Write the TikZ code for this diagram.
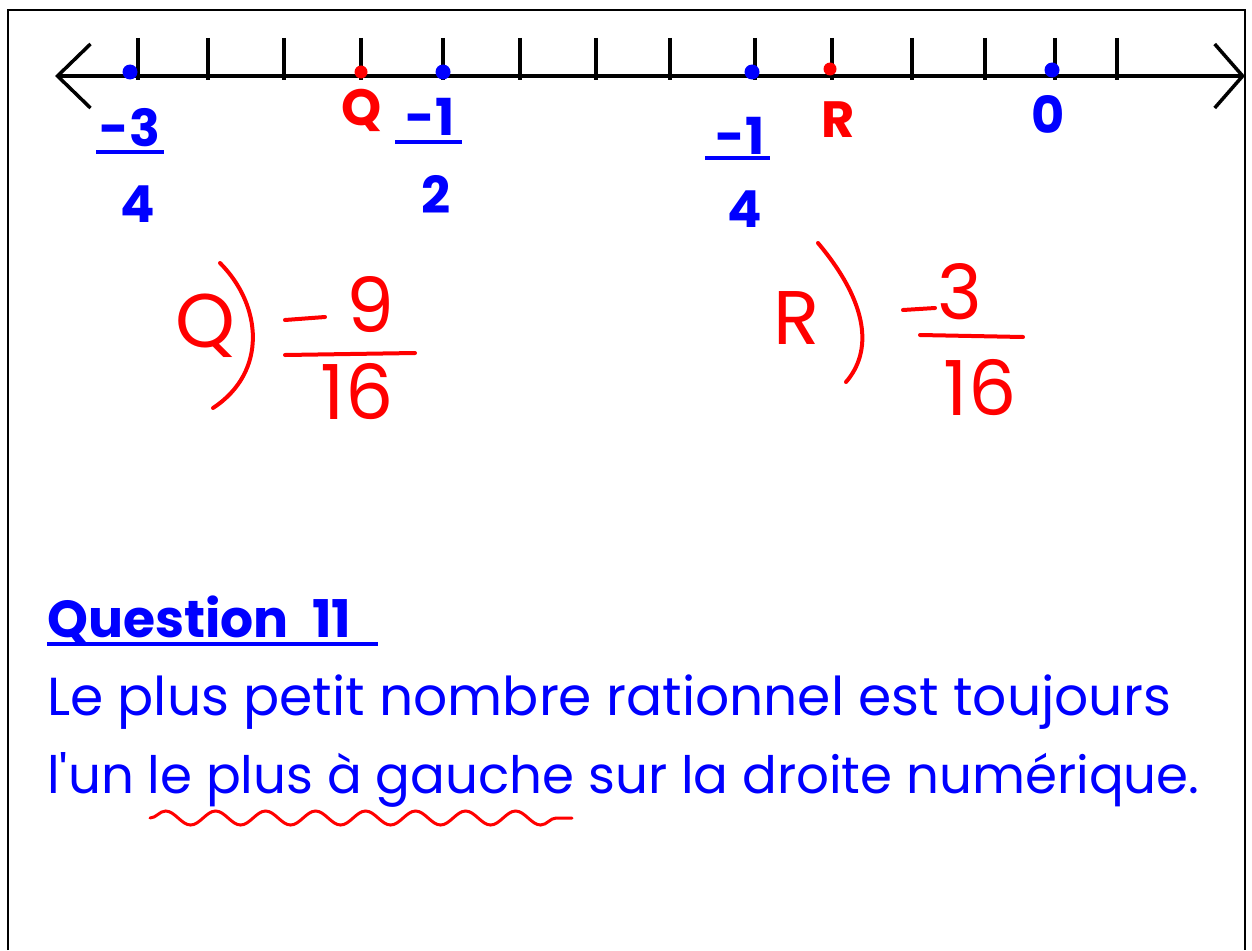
\documentclass[tikz,border=0pt]{standalone}
\usepackage{fontspec}
\setmainfont{Poppins}
\usetikzlibrary{positioning, arrows.meta, decorations.pathmorphing}

\begin{document}
\begin{tikzpicture}[
    x=1pt, y=-1pt,
    axis/.style={line width=3.5pt, black},
    tickmark/.style={line width=4pt, black},
    bdot/.style={circle, fill=blue, inner sep=0pt, minimum size=15pt},
    rdot/.style={circle, fill=red, inner sep=0pt, minimum size=13pt},
    blab/.style={text=blue, font=\bfseries\fontsize{51}{51}\selectfont, inner sep=0pt},
    rlab/.style={blab, text=red},
    fbar/.style={blue, line width=4pt},
    hand/.style={text=red, font=\fontsize{76}{76}\selectfont, inner sep=0pt},
    ink/.style={red, line width=4pt, line cap=round},
    txt/.style={text=blue, font=\fontsize{53.5}{53.5}\selectfont, anchor=base west, inner sep=0pt},
]
\useasboundingbox (0,0) rectangle (1252,950);
\draw[line width=2pt] (8,950) -- (8,10) -- (1245,10) -- (1245,950);

\coordinate (lend) at (55,76);
\coordinate (rend) at (1245,76);
\draw[axis, {Straight Barb[length=33pt, width=64pt]}-{Straight Barb[length=28pt, width=64pt]}] (lend) -- (rend);
\foreach \x in {138,208,284,361,443,520,596,670,755,832,912,985,1055,1117}
    \draw[tickmark] (\x,38) -- (\x,80);

\node[bdot] (p1) at (130,72) {};
\node[rdot] (pq) at (361,72) {};
\node[bdot] (p2) at (443,72) {};
\node[bdot] (p3) at (752,72) {};
\node[rdot] (pr) at (830,69) {};
\node[bdot] (p0) at (1052,70) {};

\node[blab] (n1) at (130,128) {-3};
\node[blab] (d1) at (138,204) {4};
\draw[fbar] (96,152) -- (164,152);
\node[rlab] (lq) at (362,110) {Q};
\node[blab] (n2) at (430,117) {-1};
\node[blab] (d2) at (436,194) {2};
\draw[fbar] (395,142) -- (462,142);
\node[blab] (n3) at (740,136) {-1};
\node[blab] (d3) at (745,209) {4};
\draw[fbar] (705,158) -- (770,158);
\node[rlab] (lr) at (838,120) {R};
\node[blab] (l0) at (1048,115) {0};

\node[hand] (hq) at (205,326) {Q};
\draw[ink] (220,263) .. controls (262,305) and (268,372) .. (213,408);
\draw[ink] (285,320) -- (325,317);
\node[hand] (hq9) at (370,305) {9};
\draw[ink] (285,355) -- (415,353);
\node[hand] (hq16) at (357,392) {16};

\node[hand] (hr) at (797,318) {R};
\draw[ink] (818,243) .. controls (870,305) and (872,352) .. (846,382);
\draw[ink] (903,310) -- (935,308);
\node[hand] (hr3) at (960,292) {3};
\draw[ink] (920,335) -- (1023,337);
\node[hand] (hr16) at (980,388) {16};

\node[txt, font=\bfseries\fontsize{52}{52}\selectfont] (qtitle) at (47,637) {Question\hspace{0.45em}11};
\draw[fbar] (47,644) -- (378,644);
\node[txt] (line1) at (47,715) {Le plus petit nombre rationnel est toujours};
\node[txt, font=\fontsize{51.5}{51.5}\selectfont] (line2) at (47,793) {l\textquotesingle un le plus à gauche sur la droite numérique.};
\draw[ink, line width=3pt, decorate, decoration={snake, amplitude=7pt, segment length=50pt}] (150,818) -- (572,818);
\end{tikzpicture}
\end{document}
